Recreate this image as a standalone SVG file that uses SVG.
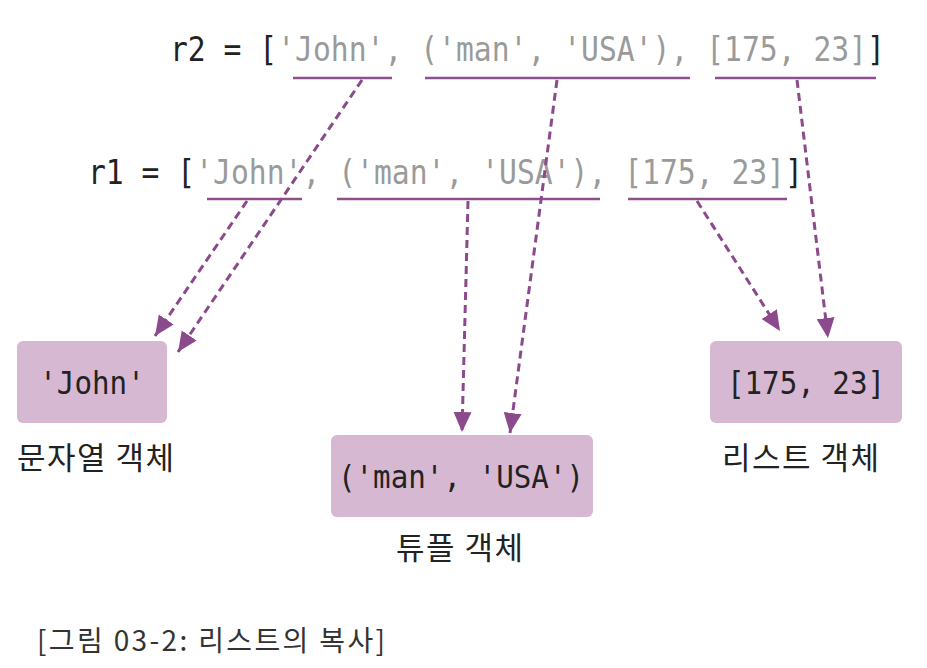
<svg xmlns="http://www.w3.org/2000/svg" width="927" height="668" viewBox="0 0 927 668">
<style>
.code{font-family:"DejaVu Sans Mono","Liberation Mono",monospace;font-size:29.7px;fill:#222}
.bx{font-size:29.2px}
.g{fill:#9a9a9a}
.ul{stroke:#8e4f8e;stroke-width:2.5;fill:none}
.arr{stroke:#8b4a8b;stroke-width:3;fill:none;stroke-dasharray:8 5;marker-end:url(#ah)}
.box{fill:#d7b8d3}
.lbl{font-family:"Noto Sans CJK KR","Noto Sans",sans-serif;font-size:31px;letter-spacing:1.5px;fill:#222}
.cap{font-family:"Noto Sans CJK KR","Noto Sans",sans-serif;font-size:28px;fill:#333}
</style>
<defs>
<marker id="ah" markerUnits="userSpaceOnUse" markerWidth="22" markerHeight="20" refX="20" refY="9" orient="auto">
<path d="M0,0 L20,9 L0,18 Z" fill="#8b4a8b"/>
</marker>
</defs>
<g id="r2">
<g transform="translate(0,61) scale(1,1.12)">
<text class="code" x="170" y="0">r2 = [</text>
<text class="code g" x="277.25" y="0">'John', ('man', 'USA'), [175, 23]</text>
<text class="code" x="867.1" y="0">]</text>
</g>
<line class="ul" x1="293" y1="78" x2="392" y2="78"/>
<line class="ul" x1="425" y1="78" x2="690" y2="78"/>
<line class="ul" x1="715" y1="78" x2="876" y2="78"/>
</g>
<g id="r1">
<g transform="translate(0,184) scale(1,1.12)">
<text class="code" x="88" y="0">r1 = [</text>
<text class="code g" x="195.25" y="0">'John', ('man', 'USA'), [175, 23]</text>
<text class="code" x="785.1" y="0">]</text>
</g>
<line class="ul" x1="207" y1="199" x2="302" y2="199"/>
<line class="ul" x1="337" y1="199" x2="600" y2="199"/>
<line class="ul" x1="628" y1="199" x2="787" y2="199"/>
</g>
<g id="john">
<rect class="box" x="17" y="341" width="150" height="82" rx="6"/>
<text class="code bx" transform="translate(92,394) scale(1,1.12)" text-anchor="middle">'John'</text>
<text class="lbl" x="17" y="469">문자열 객체</text>
</g>
<g id="tuple">
<rect class="box" x="331" y="435" width="262" height="82" rx="6"/>
<text class="code bx" transform="translate(461,488) scale(1,1.12)" text-anchor="middle">('man', 'USA')</text>
<text class="lbl" x="396" y="559">튜플 객체</text>
</g>
<g id="list">
<rect class="box" x="710" y="341" width="192" height="82" rx="6"/>
<text class="code bx" transform="translate(806,394) scale(1,1.12)" text-anchor="middle">[175, 23]</text>
<text class="lbl" x="722" y="469">리스트 객체</text>
</g>
<g id="connectors">
<line class="arr" x1="362" y1="80" x2="178" y2="352"/>
<line class="arr" x1="247" y1="201" x2="155" y2="336"/>
<line class="arr" x1="557" y1="80" x2="510" y2="433"/>
<line class="arr" x1="468" y1="201" x2="462" y2="432"/>
<line class="arr" x1="797" y1="80" x2="828" y2="338"/>
<line class="arr" x1="697" y1="201" x2="780" y2="331"/>
</g>
<text class="cap" x="37" y="651" textLength="348" lengthAdjust="spacing">[그림 03-2: 리스트의 복사]</text>
</svg>
